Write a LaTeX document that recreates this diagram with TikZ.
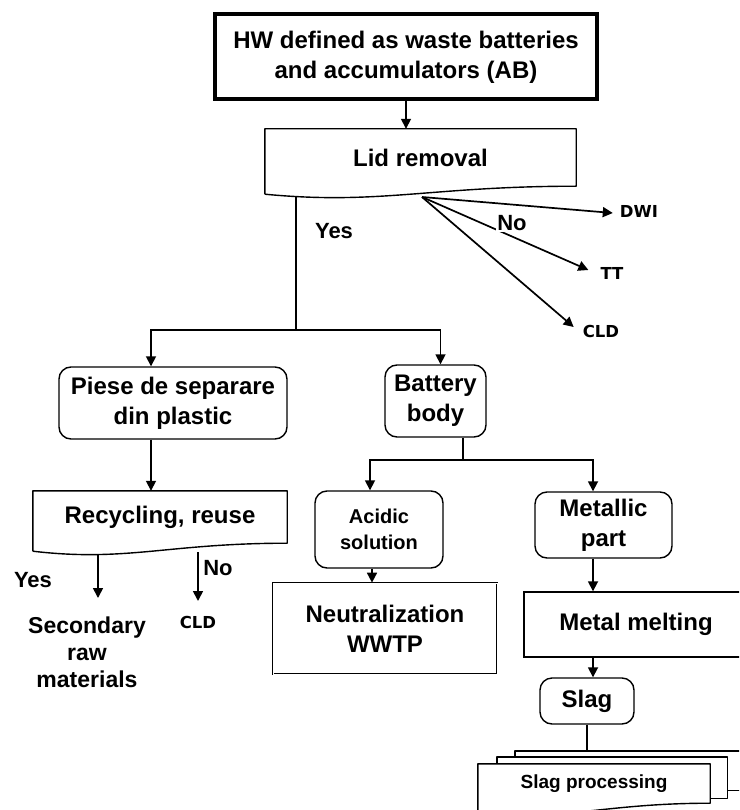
\documentclass[tikz,border=0pt]{standalone}
\usepackage{fontspec}
\setmainfont{Liberation Sans}
\newfontfamily\labfont{DejaVu Sans}
\usetikzlibrary{arrows.meta,calc}

% outline of a document box (wavy bottom) round a node
\newcommand{\docshape}[2][]{%
  \draw[docline,#1] ([yshift=-8pt]#2.south west) -- (#2.north west) -- (#2.north east) -- (#2.south east)
    .. controls ($(#2.south west)!0.53!(#2.south east)$) and ([yshift=-19pt]$(#2.south west)!0.37!(#2.south east)$)
    .. ([yshift=-8pt]#2.south west);
}

\begin{document}
\begin{tikzpicture}[x=1pt,y=-1pt,
	txt/.style={font=\fontsize{24}{30}\selectfont\bfseries, align=center, inner sep=0pt},
	rbox/.style={txt, draw, line width=1.4pt, rounded corners=12pt},
	pbox/.style={txt, draw, line width=1.4pt},
	docline/.style={line width=1.4pt, line join=round},
	arr/.style={-{Triangle[length=10pt,width=10pt]}, line width=1.7pt},
	lab/.style={font=\fontsize{22}{26}\selectfont\bfseries, inner sep=1pt},
	small/.style={font=\labfont\fontsize{16.5}{19}\selectfont\bfseries, inner sep=0pt}]
	\useasboundingbox (0,0) rectangle (739,810);
	\clip (0,0) rectangle (739,810);

	% top of the chart
	\node[pbox, line width=4pt, minimum width=382pt, minimum height=85pt] (hw) at (406,57) {HW defined as waste batteries\\and accumulators (AB)};
	\node[txt, minimum width=311pt, minimum height=57pt] (lid) at (420.5,157.5) {Lid removal};
	\docshape{lid}
	\draw[arr] (hw.south) -- (hw.south |- lid.north);

	% No branch
	\coordinate (lidout) at (422,197);
	\node[small] (dwi) at (639,211) {DWI};
	\node[small] (tt) at (612,273) {TT};
	\node[small] (cld1) at (601,331) {CLD};
	\draw[arr] (lidout) -- ([xshift=-7pt,yshift=-2pt]dwi.west);
	\draw[arr] (lidout) -- ([xshift=-12pt,yshift=3pt]tt.west);
	\draw[arr] (lidout) -- ([xshift=-9pt,yshift=4pt]cld1.west);
	\node[lab, fill=white] (no1) at (512,223) {No};

	% Yes branch
	\coordinate (yesout) at (296,196);
	\coordinate (split) at (296,330);
	\node[lab] (yes1) at (334,231) {Yes};
	\node[rbox, minimum width=228pt, minimum height=72pt] (piese) at (173,403) {Piese de separare\\din plastic};
	\node[rbox, minimum width=101pt, minimum height=72pt] (battery) at (435.5,401) {Battery\\body};
	\draw[line width=1.7pt] (yesout) -- (split);
	\draw[arr] (split) -| ([xshift=-22pt]piese.north);
	\draw[arr] (split) -| ([xshift=5pt]battery.north);

	% plastic parts
	\node[txt, minimum width=254pt, minimum height=52pt] (recyc) at (160,517) {Recycling, reuse};
	\docshape{recyc}
	\draw[arr] ([xshift=-22pt]piese.south) -- ([xshift=-22pt]piese.south |- recyc.north);
	\node[txt, font=\fontsize{23}{27}\selectfont\bfseries] (sec) at (87,652) {Secondary\\raw\\materials};
	\node[small] (cld2) at (198,622) {CLD};
	\node[lab] (yes2) at (33,580) {Yes};
	\node[lab] (no2) at (218,568) {No};
	\coordinate (secin) at (98,598);
	\draw[arr] ([yshift=-12pt]recyc.south -| secin) -- (secin);
	\draw[arr] ([yshift=-9pt]recyc.south -| cld2) -- ([yshift=21pt]cld2.center);

	% battery body
	\coordinate (bsplit) at (463,460);
	\node[rbox, font=\fontsize{20}{26}\selectfont\bfseries, minimum width=128pt, minimum height=77pt] (acid) at (379,529.5) {Acidic\\solution};
	\node[rbox, minimum width=137pt, minimum height=66pt] (metal) at (603.5,525) {Metallic\\part};
	\draw[line width=1.7pt] (battery.south -| bsplit) -- (bsplit);
	\draw[arr] (bsplit) -| ([xshift=-9pt]acid.north);
	\draw[arr] (bsplit) -| ([xshift=-10.5pt]metal.north);

	\node[pbox, double, line width=0.7pt, double distance=1pt, minimum width=224pt, minimum height=91pt] (neut) at (385,628.5) {Neutralization\\WWTP};
	\draw[arr] ([xshift=-7pt]acid.south) -- ([xshift=-7pt]acid.south |- neut.north);

	\node[pbox, minimum width=224pt, minimum height=65pt] (melt) at (636,624.5) {Metal melting};
	\node[rbox, minimum width=94pt, minimum height=46pt] (slag) at (587,701) {Slag};
	\draw[arr] ([xshift=-10.5pt]metal.south) -- ([xshift=-10.5pt]metal.south |- melt.north);
	\draw[arr] ([xshift=6pt]slag.north |- melt.south) -- ([xshift=6pt]slag.north);

	% slag processing stack
	\node[txt, font=\fontsize{19}{23}\selectfont\bfseries, minimum width=232pt, minimum height=39pt] (front) at (594,783.5) {};
	\coordinate (backtop) at ([yshift=13pt]front.north);
	\draw[line width=1.7pt] (slag.south) -- (slag.south |- backtop);
	\draw[docline, fill=white] ([xshift=37pt,yshift=13pt]front.north west) rectangle ([xshift=50pt,yshift=13pt]front.south east);
	\draw[docline, fill=white] ([xshift=19pt,yshift=7pt]front.north west) rectangle ([xshift=17pt,yshift=5pt]front.south east);
	\docshape[fill=white]{front}
	\node[txt, font=\fontsize{19}{23}\selectfont\bfseries] (slagproc) at (front) {Slag processing};
\end{tikzpicture}
\end{document}
